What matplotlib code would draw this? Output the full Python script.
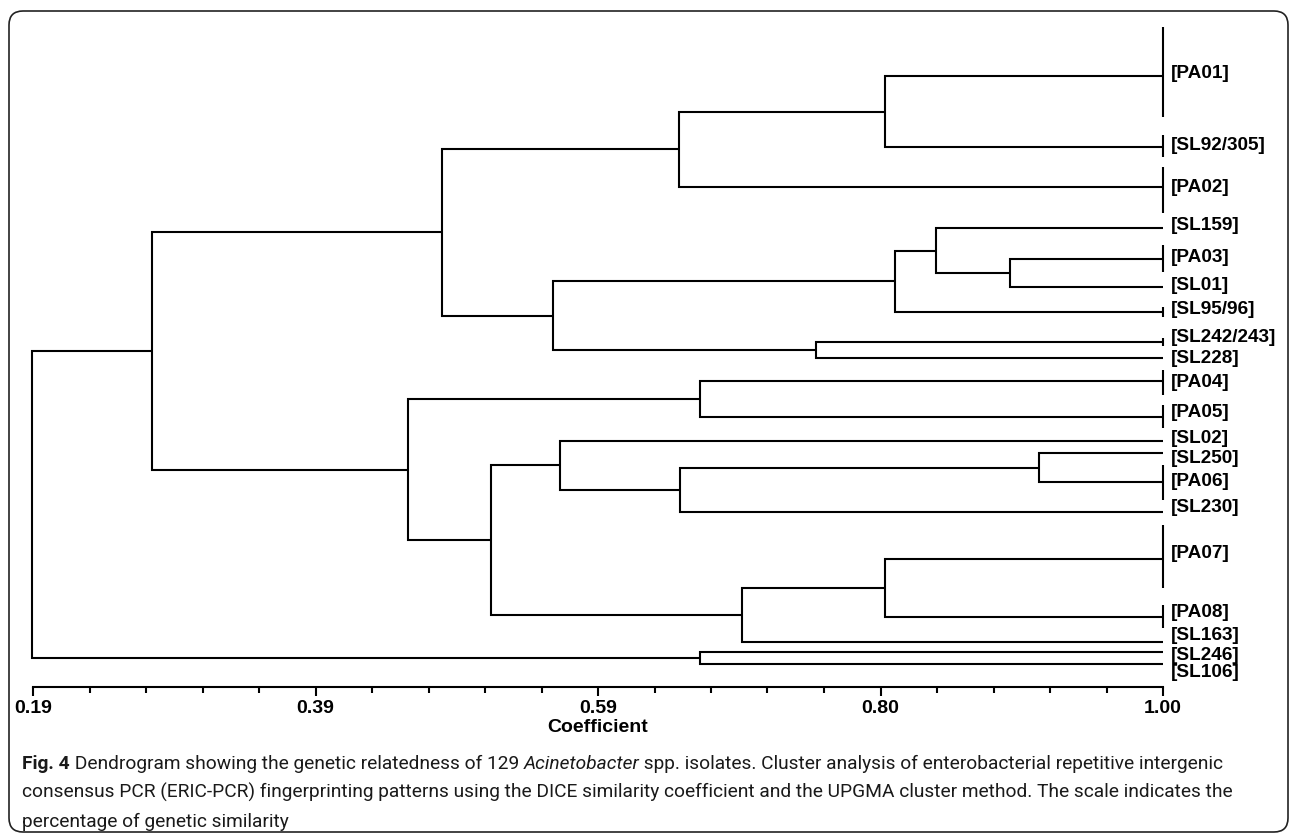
import matplotlib
matplotlib.use('Agg')
import matplotlib.pyplot as plt
from matplotlib.patches import FancyBboxPatch
from matplotlib.transforms import offset_copy
import numpy as np

# ---------------- data ----------------
leaf_names = ['PA01', 'SL92/305', 'PA02', 'SL159', 'PA03', 'SL01', 'SL95/96',
              'SL242/243', 'SL228', 'PA04', 'PA05', 'SL02', 'SL250', 'PA06',
              'SL230', 'PA07', 'PA08', 'SL163', 'SL246', 'SL106']
# vertical leaf positions (rows, top -> bottom)
leaf_y = [76, 147, 187, 228, 259, 287, 312, 342, 358, 381, 417, 441, 453, 482,
          512, 559, 617, 642, 652, 664]
# extent of the group bar drawn at a leaf (None = single line, no bar)
bar_top = [27, 135, 167, None, 245, None, 307, 338, None, 370, 405, None, None,
           465, None, 525, 605, None, None, None]
bar_bottom = [117, 157, 213, None, 272, None, 317, 346, None, 395, 428, None,
              None, 500, None, 588, 628, None, None, None]

node_names = ['D', 'C', 'F', 'E', 'G', 'I', 'H', 'B', 'K', 'O', 'N', 'M', 'Q',
              'P', 'L', 'J', 'A', 'R', 'root']
node_coef = [0.801, 0.653, 0.890, 0.837, 0.808, 0.751, 0.563, 0.483, 0.668,
             0.911, 0.654, 0.568, 0.801, 0.698, 0.518, 0.459, 0.275, 0.668,
             0.189]
node_children = [('PA01', 'SL92/305'), ('D', 'PA02'), ('PA03', 'SL01'),
                 ('SL159', 'F'), ('E', 'SL95/96'), ('SL242/243', 'SL228'),
                 ('G', 'I'), ('C', 'H'), ('PA04', 'PA05'), ('SL250', 'PA06'),
                 ('O', 'SL230'), ('SL02', 'N'), ('PA07', 'PA08'),
                 ('Q', 'SL163'), ('M', 'P'), ('K', 'L'), ('B', 'J'),
                 ('SL246', 'SL106'), ('A', 'R')]
leaf_coef = 1.00

tick_labels = ['0.19', '0.39', '0.59', '0.80', '1.00']
axis_min, axis_max = 0.19, 1.00

caption_lines = [
    [('Fig. 4', 'bold'), (' Dendrogram showing the genetic relatedness of 129 ', 'normal'),
     ('Acinetobacter', 'italic'),
     (' spp. isolates. Cluster analysis of enterobacterial repetitive intergenic', 'normal')],
    [('consensus PCR (ERIC-PCR) fingerprinting patterns using the DICE similarity '
      'coefficient and the UPGMA cluster method. The scale indicates the', 'normal')],
    [('percentage of genetic similarity', 'normal')],
]

# label vertical nudges (pixels) for readability
label_nudge = {'PA01': -3, 'SL92/305': -2, 'SL159': -3, 'PA03': -2, 'SL01': -2,
               'SL95/96': -3, 'SL242/243': -5, 'PA04': 1, 'PA05': -5,
               'SL02': -3, 'SL250': 5, 'PA06': -1, 'SL230': -5, 'PA07': -6,
               'PA08': -5, 'SL163': -7, 'SL246': 3, 'SL106': 8}

# ---------------- figure ----------------
W, H = 1290, 833
fig = plt.figure(figsize=(W / 100, H / 100), dpi=100)
fig.patch.set_facecolor('white')

# overlay axes in pixel coordinates (frame + caption)
ov = fig.add_axes([0, 0, 1, 1], zorder=0)
ov.set_xlim(0, W)
ov.set_ylim(H, 0)
ov.axis('off')
frame = FancyBboxPatch((9, 11), 1279, 821,
                       boxstyle='round,pad=0,rounding_size=14',
                       fill=False, edgecolor='#222222', linewidth=1.2)
ov.add_patch(frame)

ax = fig.add_axes([33 / W, 1 - 687 / H, 1130 / W, (687 - 20) / H], zorder=1)
ax.patch.set_alpha(0)
ax.set_xlim(axis_min, axis_max)
ax.set_ylim(687, 20)

lw = 1.5
pos = {n: (leaf_coef, y) for n, y in zip(leaf_names, leaf_y)}
for name, coef, (c1, c2) in zip(node_names, node_coef, node_children):
    x1, y1 = pos[c1]
    x2, y2 = pos[c2]
    ym = (y1 + y2) / 2
    pos[name] = (coef, ym)
    ax.plot([x1, coef, coef, x2], [y1, y1, y2, y2], color='black', lw=lw,
            solid_joinstyle='miter', solid_capstyle='butt', clip_on=False)

for n, t, b in zip(leaf_names, bar_top, bar_bottom):
    if t is not None:
        ax.plot([leaf_coef, leaf_coef], [t, b], color='black', lw=lw,
                solid_capstyle='butt', clip_on=False)

lab_tr = offset_copy(ax.transData, fig=fig, x=8, y=0, units='dots')
for n, y in zip(leaf_names, leaf_y):
    ax.text(leaf_coef, y + label_nudge.get(n, 0), '[' + n + ']', transform=lab_tr,
            ha='left', va='center', fontsize=13.7, fontweight='bold',
            family='Liberation Sans', clip_on=False)

for s in ['top', 'right', 'left']:
    ax.spines[s].set_visible(False)
ax.spines['bottom'].set_linewidth(1.5)
ax.spines['bottom'].set_bounds(axis_min, axis_max)
ax.set_yticks([])
ax.set_xticks(np.linspace(axis_min, axis_max, len(tick_labels)))
ax.set_xticklabels(tick_labels)
ax.set_xticks(np.linspace(axis_min, axis_max, 21), minor=True)
ax.tick_params(axis='x', which='major', direction='out', length=6.5, width=1.5,
               pad=3, labelsize=14)
ax.tick_params(axis='x', which='minor', direction='out', length=4, width=1.5)
for lab in ax.get_xticklabels():
    lab.set_fontweight('bold')
    lab.set_family('Liberation Sans')
ax.set_xlabel('Coefficient', fontsize=14, fontweight='bold',
              family='Liberation Sans', labelpad=1)

# ---------------- caption ----------------
renderer = fig.canvas.get_renderer()
cap_font = 'Roboto'


def piece_width(txt, style, size):
    kw = dict(fontsize=size, family=cap_font)
    if style == 'bold':
        kw['fontweight'] = 'bold'
    elif style == 'italic':
        kw['fontstyle'] = 'italic'
    t = ov.text(0, 0, txt, **kw)
    w = t.get_window_extent(renderer).width
    t.remove()
    return w


ref_size = 10
w2 = sum(piece_width(t, s, ref_size) for t, s in caption_lines[1])
cap_size = ref_size * 1216 / w2

baselines = [769, 798, 827]
for line, yb in zip(caption_lines, baselines):
    x = 22
    for txt, style in line:
        kw = dict(fontsize=cap_size, family=cap_font, color='#1a1a1a',
                  va='baseline', ha='left')
        if style == 'bold':
            kw['fontweight'] = 'bold'
        elif style == 'italic':
            kw['fontstyle'] = 'italic'
        t = ov.text(x, yb, txt, **kw)
        x += t.get_window_extent(renderer).width

fig.savefig('out.png', dpi=100, facecolor='white')
